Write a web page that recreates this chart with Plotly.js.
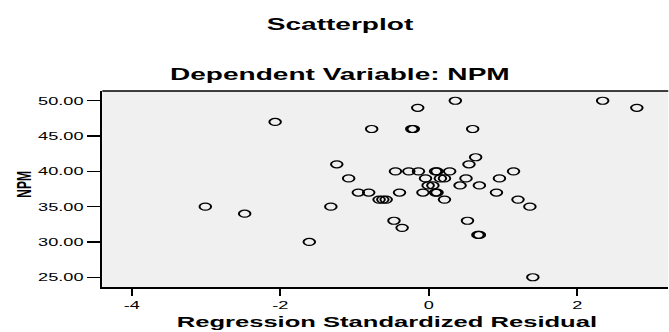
<!DOCTYPE html>
<html>
<head>
<meta charset="utf-8">
<script src="https://cdn.plot.ly/plotly-3.0.1.min.js"></script>
<style>
html,body{margin:0;padding:0;background:#fff;overflow:hidden;width:669px;height:332px;}
/* the reference is horizontally stretched (elliptical markers, wide text) */
#chart{width:405.5px;height:332px;transform:scaleX(1.65);transform-origin:0 0;}
</style>
</head>
<body>
<div id="chart"></div>
<script>
// Regression standardized residual (x) vs NPM (y)
const residual = [
  -3.01, -2.48, -2.07, -1.61, -1.32, -1.24, -1.08, -0.95, -0.81, -0.77,
  -0.67, -0.62, -0.575, -0.47, -0.45, -0.395, -0.36, -0.27, -0.23, -0.21,
  -0.15, -0.14, -0.08, -0.045, -0.01, 0.054, 0.09, 0.11, 0.09, 0.11,
  0.155, 0.21, 0.21, 0.28, 0.356, 0.42, 0.50, 0.52, 0.54, 0.59,
  0.63, 0.66, 0.68, 0.68, 0.91, 0.95, 1.14, 1.20, 1.36, 1.40,
  2.34, 2.80
];
const npm = [
  35, 34, 47, 30, 35, 41, 39, 37, 37, 46,
  36, 36, 36, 33, 40, 37, 32, 40, 46, 46,
  49, 40, 37, 39, 38, 38, 40, 40, 37, 37,
  39, 39, 36, 40, 50, 38, 39, 33, 41, 46,
  42, 31, 31, 38, 37, 39, 40, 36, 35, 25,
  50, 49
];
const xTicks = [-4, -2, 0, 2];
const yTicks = [25, 30, 35, 40, 45, 50];
const yTickText = yTicks.map(v => v.toFixed(2));

const font = 'Liberation Sans, Arial, sans-serif';

const trace = {
  type: 'scatter',
  mode: 'markers',
  x: residual,
  y: npm,
  marker: {symbol: 'circle-open', size: 7, color: '#000', line: {width: 1.2, color: '#000'}},
  hoverinfo: 'x+y'
};

const layout = {
  width: 405.5,
  height: 332,
  margin: {l: 62.4, r: 0.7, t: 91, b: 45},
  paper_bgcolor: '#ffffff',
  plot_bgcolor: '#f0f0f0',
  showlegend: false,
  title: {
    text: '<b>Scatterplot</b>',
    font: {family: font, size: 17, color: '#000'},
    x: 340 / 669, xref: 'container', xanchor: 'center',
    y: 1 - 24 / 332, yref: 'container', yanchor: 'middle'
  },
  xaxis: {
    range: [-4.397, 3.223],
    tickvals: xTicks,
    ticktext: xTicks.map(String),
    ticks: 'outside', ticklen: 7, tickwidth: 1.2, tickcolor: '#000',
    showline: true, linecolor: '#000', linewidth: 1.5,
    showgrid: false, zeroline: false,
    tickfont: {family: font, size: 11, color: '#000'}
  },
  yaxis: {
    range: [23.62, 51.38],
    tickvals: yTicks,
    ticktext: yTickText,
    ticks: 'outside', ticklen: 8, tickwidth: 1.5, tickcolor: '#000',
    showline: true, linecolor: '#000', linewidth: 1.2,
    showgrid: false, zeroline: false,
    tickfont: {family: font, size: 11, color: '#000'}
  },
  shapes: [
    {type: 'line', xref: 'paper', yref: 'paper', x0: 0, x1: 1, y0: 1, y1: 1, line: {color: '#000', width: 1.5}}
  ],
  annotations: [
    {text: '<b>Dependent Variable: NPM</b>', xref: 'paper', yref: 'paper',
     x: (340 - 103) / 565, y: (287 - 75) / 196, xanchor: 'center', yanchor: 'middle',
     showarrow: false, font: {family: font, size: 17, color: '#000'}},
    {text: '<b>NPM</b>', xref: 'paper', yref: 'paper', textangle: -90,
     x: (25 - 103) / 565, y: (287 - 184) / 196, xanchor: 'center', yanchor: 'middle',
     showarrow: false, font: {family: font, size: 12, color: '#000'}},
    {text: '<b>Regression Standardized Residual</b>', xref: 'paper', yref: 'paper',
     x: (387 - 103) / 565, y: (287 - 321) / 196, xanchor: 'center', yanchor: 'middle',
     showarrow: false, font: {family: font, size: 15.5, color: '#000'}}
  ]
};

Plotly.newPlot('chart', [trace], layout, {displayModeBar: false, staticPlot: true});
</script>
</body>
</html>
